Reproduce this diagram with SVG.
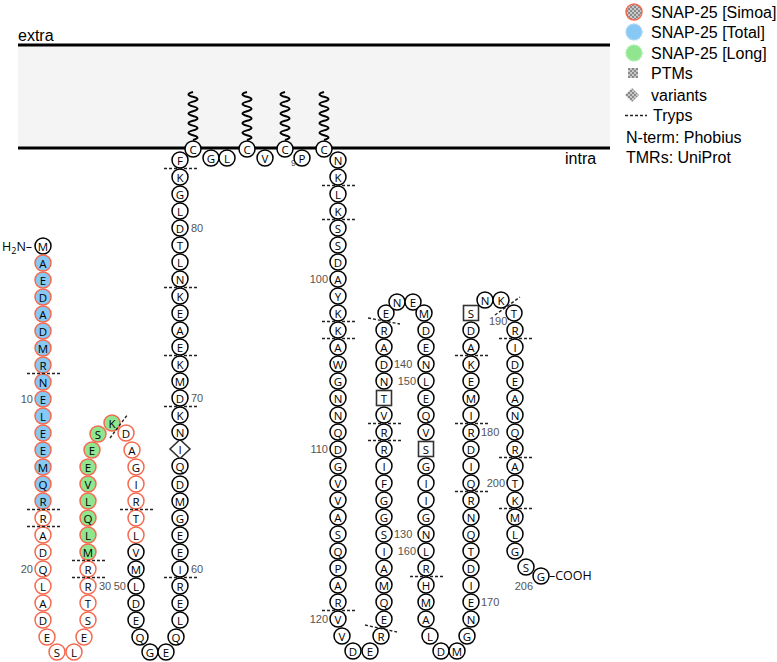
<svg xmlns="http://www.w3.org/2000/svg" width="777" height="662" viewBox="0 0 777 662">
<defs>
<pattern id="chk" width="4" height="4" patternUnits="userSpaceOnUse"><rect width="4" height="4" fill="#c8c8c8"/><rect width="2" height="2" fill="#8a8a8a"/><rect x="2" y="2" width="2" height="2" fill="#8a8a8a"/></pattern>
</defs>
<style>
circle{stroke-width:1.5}
.k{fill:#fff;stroke:#000}
.r{fill:#fff;stroke:#f36a50}
.rb{fill:#87c8f5;stroke:#f36a50}
.rg{fill:#8fe68f;stroke:#f36a50}
.sq{fill:#fff;stroke:#333;stroke-width:1.6}
text{font-family:"Open Sans","DejaVu Sans",sans-serif}
g.res text{font-size:11.5px;text-anchor:middle;dominant-baseline:central;fill:#000}
.num{font-family:"Liberation Sans",Arial,sans-serif;font-size:11px;fill:#555}
.lab{font-family:"Liberation Sans",Arial,sans-serif;font-size:16px;fill:#000}
.tr{stroke:#222;stroke-width:1.4;stroke-dasharray:3 2;fill:none}
.sqg{fill:none;stroke:#000;stroke-width:2}
.gs{opacity:0.995}
</style>
<g id="membrane" class="gs">
<rect x="18" y="45" width="592" height="103" fill="#f4f4f4"/>
<line x1="18" y1="45" x2="610" y2="45" stroke="#000" stroke-width="3"/>
<line x1="18" y1="148" x2="610" y2="148" stroke="#000" stroke-width="3"/>
<text class="lab" x="18" y="41">extra</text>
<text class="lab" x="565" y="164">intra</text>
</g>
<g id="palmitoyl">
<path class="sqg" d="M193,140 q9,-2.4 0,-4.8 t0,-4.8 t0,-4.8 t0,-4.8 t0,-4.8 t0,-4.8 t0,-4.8 t0,-4.8 t0,-4.8 t0,-4.8"/>
<path class="sqg" d="M247,140 q9,-2.4 0,-4.8 t0,-4.8 t0,-4.8 t0,-4.8 t0,-4.8 t0,-4.8 t0,-4.8 t0,-4.8 t0,-4.8 t0,-4.8"/>
<path class="sqg" d="M285,140 q9,-2.4 0,-4.8 t0,-4.8 t0,-4.8 t0,-4.8 t0,-4.8 t0,-4.8 t0,-4.8 t0,-4.8 t0,-4.8 t0,-4.8"/>
<path class="sqg" d="M324,140 q9,-2.4 0,-4.8 t0,-4.8 t0,-4.8 t0,-4.8 t0,-4.8 t0,-4.8 t0,-4.8 t0,-4.8 t0,-4.8 t0,-4.8"/>
</g>
<g id="numbers" class="gs">
<text class="num" x="33" y="403" text-anchor="end">10</text>
<text class="num" x="33" y="573" text-anchor="end">20</text>
<text class="num" x="99" y="590">30</text>
<text class="num" x="126" y="590" text-anchor="end">50</text>
<text class="num" x="191" y="573">60</text>
<text class="num" x="191" y="402">70</text>
<text class="num" x="191" y="232">80</text>
<text class="num" x="291" y="166" style="font-size:9px">90</text>
<text class="num" x="328" y="283" text-anchor="end">100</text>
<text class="num" x="328" y="453" text-anchor="end">110</text>
<text class="num" x="328" y="623" text-anchor="end">120</text>
<text class="num" x="394" y="538">130</text>
<text class="num" x="394" y="368">140</text>
<text class="num" x="416" y="385" text-anchor="end">150</text>
<text class="num" x="416" y="555" text-anchor="end">160</text>
<text class="num" x="481" y="606">170</text>
<text class="num" x="481" y="436">180</text>
<text class="num" x="489" y="325">190</text>
<text class="num" x="505" y="487" text-anchor="end">200</text>
<text class="num" x="533" y="590" text-anchor="end">206</text>
</g>
<g id="termini" class="gs">
<text x="2" y="251" font-family="Liberation Sans,Arial,sans-serif" font-size="12.5">H<tspan font-size="9" dy="3">2</tspan><tspan dy="-3">N–</tspan></text>
<text x="549" y="580" font-family="Liberation Sans,Arial,sans-serif" font-size="12.5">–COOH</text>
</g>
<g id="residues" class="res gs">
<g id="r1"><circle class="k" cx="43" cy="246" r="8"/><text x="43" y="246">M</text></g>
<g id="r2"><circle class="rb" cx="43" cy="263" r="8"/><text x="43" y="263">A</text></g>
<g id="r3"><circle class="rb" cx="43" cy="280" r="8"/><text x="43" y="280">E</text></g>
<g id="r4"><circle class="rb" cx="43" cy="297" r="8"/><text x="43" y="297">D</text></g>
<g id="r5"><circle class="rb" cx="43" cy="314" r="8"/><text x="43" y="314">A</text></g>
<g id="r6"><circle class="rb" cx="43" cy="331" r="8"/><text x="43" y="331">D</text></g>
<g id="r7"><circle class="rb" cx="43" cy="348" r="8"/><text x="43" y="348">M</text></g>
<g id="r8"><circle class="rb" cx="43" cy="365" r="8"/><text x="43" y="365">R</text></g>
<g id="r9"><circle class="rb" cx="43" cy="382" r="8"/><text x="43" y="382">N</text></g>
<g id="r10"><circle class="rb" cx="43" cy="399" r="8"/><text x="43" y="399">E</text></g>
<g id="r11"><circle class="rb" cx="43" cy="416" r="8"/><text x="43" y="416">L</text></g>
<g id="r12"><circle class="rb" cx="43" cy="433" r="8"/><text x="43" y="433">E</text></g>
<g id="r13"><circle class="rb" cx="43" cy="450" r="8"/><text x="43" y="450">E</text></g>
<g id="r14"><circle class="rb" cx="43" cy="467" r="8"/><text x="43" y="467">M</text></g>
<g id="r15"><circle class="rb" cx="43" cy="484" r="8"/><text x="43" y="484">Q</text></g>
<g id="r16"><circle class="rb" cx="43" cy="501" r="8"/><text x="43" y="501">R</text></g>
<g id="r17"><circle class="r" cx="43" cy="518" r="8"/><text x="43" y="518">R</text></g>
<g id="r18"><circle class="r" cx="43" cy="535" r="8"/><text x="43" y="535">A</text></g>
<g id="r19"><circle class="r" cx="43" cy="552" r="8"/><text x="43" y="552">D</text></g>
<g id="r20"><circle class="r" cx="43" cy="569" r="8"/><text x="43" y="569">Q</text></g>
<g id="r21"><circle class="r" cx="43" cy="586" r="8"/><text x="43" y="586">L</text></g>
<g id="r22"><circle class="r" cx="43" cy="603" r="8"/><text x="43" y="603">A</text></g>
<g id="r23"><circle class="r" cx="43" cy="620" r="8"/><text x="43" y="620">D</text></g>
<g id="r24"><circle class="r" cx="47" cy="637" r="8"/><text x="47" y="637">E</text></g>
<g id="r25"><circle class="r" cx="57" cy="652" r="8"/><text x="57" y="652">S</text></g>
<g id="r26"><circle class="r" cx="74" cy="652" r="8"/><text x="74" y="652">L</text></g>
<g id="r27"><circle class="r" cx="84" cy="637" r="8"/><text x="84" y="637">E</text></g>
<g id="r28"><circle class="r" cx="88" cy="620" r="8"/><text x="88" y="620">S</text></g>
<g id="r29"><circle class="r" cx="88" cy="603" r="8"/><text x="88" y="603">T</text></g>
<g id="r30"><circle class="r" cx="88" cy="586" r="8"/><text x="88" y="586">R</text></g>
<g id="r31"><circle class="r" cx="88" cy="569" r="8"/><text x="88" y="569">R</text></g>
<g id="r32"><circle class="rg" cx="88" cy="552" r="8"/><text x="88" y="552">M</text></g>
<g id="r33"><circle class="rg" cx="88" cy="535" r="8"/><text x="88" y="535">L</text></g>
<g id="r34"><circle class="rg" cx="88" cy="518" r="8"/><text x="88" y="518">Q</text></g>
<g id="r35"><circle class="rg" cx="88" cy="501" r="8"/><text x="88" y="501">L</text></g>
<g id="r36"><circle class="rg" cx="88" cy="484" r="8"/><text x="88" y="484">V</text></g>
<g id="r37"><circle class="rg" cx="88" cy="467" r="8"/><text x="88" y="467">E</text></g>
<g id="r38"><circle class="rg" cx="92" cy="450" r="8"/><text x="92" y="450">E</text></g>
<g id="r39"><circle class="rg" cx="98" cy="434" r="8"/><text x="98" y="434">S</text></g>
<g id="r40"><circle class="rg" cx="112" cy="423" r="8"/><text x="112" y="423">K</text></g>
<g id="r41"><circle class="r" cx="126" cy="433" r="8"/><text x="126" y="433">D</text></g>
<g id="r42"><circle class="r" cx="132" cy="450" r="8"/><text x="132" y="450">A</text></g>
<g id="r43"><circle class="r" cx="136" cy="467" r="8"/><text x="136" y="467">G</text></g>
<g id="r44"><circle class="r" cx="136" cy="484" r="8"/><text x="136" y="484">I</text></g>
<g id="r45"><circle class="r" cx="136" cy="501" r="8"/><text x="136" y="501">R</text></g>
<g id="r46"><circle class="r" cx="136" cy="518" r="8"/><text x="136" y="518">T</text></g>
<g id="r47"><circle class="r" cx="136" cy="535" r="8"/><text x="136" y="535">L</text></g>
<g id="r48"><circle class="k" cx="136" cy="552" r="8"/><text x="136" y="552">V</text></g>
<g id="r49"><circle class="k" cx="136" cy="569" r="8"/><text x="136" y="569">M</text></g>
<g id="r50"><circle class="k" cx="136" cy="586" r="8"/><text x="136" y="586">L</text></g>
<g id="r51"><circle class="k" cx="136" cy="603" r="8"/><text x="136" y="603">D</text></g>
<g id="r52"><circle class="k" cx="136" cy="620" r="8"/><text x="136" y="620">E</text></g>
<g id="r53"><circle class="k" cx="140" cy="637" r="8"/><text x="140" y="637">Q</text></g>
<g id="r54"><circle class="k" cx="150" cy="652" r="8"/><text x="150" y="652">G</text></g>
<g id="r55"><circle class="k" cx="166" cy="652" r="8"/><text x="166" y="652">E</text></g>
<g id="r56"><circle class="k" cx="176" cy="637" r="8"/><text x="176" y="637">Q</text></g>
<g id="r57"><circle class="k" cx="180" cy="620" r="8"/><text x="180" y="620">L</text></g>
<g id="r58"><circle class="k" cx="180" cy="603" r="8"/><text x="180" y="603">E</text></g>
<g id="r59"><circle class="k" cx="180" cy="586" r="8"/><text x="180" y="586">R</text></g>
<g id="r60"><circle class="k" cx="180" cy="569" r="8"/><text x="180" y="569">I</text></g>
<g id="r61"><circle class="k" cx="180" cy="552" r="8"/><text x="180" y="552">E</text></g>
<g id="r62"><circle class="k" cx="180" cy="535" r="8"/><text x="180" y="535">E</text></g>
<g id="r63"><circle class="k" cx="180" cy="518" r="8"/><text x="180" y="518">G</text></g>
<g id="r64"><circle class="k" cx="180" cy="501" r="8"/><text x="180" y="501">M</text></g>
<g id="r65"><circle class="k" cx="180" cy="484" r="8"/><text x="180" y="484">D</text></g>
<g id="r66"><circle class="k" cx="180" cy="466" r="8"/><text x="180" y="466">Q</text></g>
<g id="r67"><polygon class="sq" points="180,439.5 190,449 180,458.5 170,449"/><text x="180" y="449">I</text></g>
<g id="r68"><circle class="k" cx="180" cy="432" r="8"/><text x="180" y="432">N</text></g>
<g id="r69"><circle class="k" cx="180" cy="415" r="8"/><text x="180" y="415">K</text></g>
<g id="r70"><circle class="k" cx="180" cy="398" r="8"/><text x="180" y="398">D</text></g>
<g id="r71"><circle class="k" cx="180" cy="381" r="8"/><text x="180" y="381">M</text></g>
<g id="r72"><circle class="k" cx="180" cy="364" r="8"/><text x="180" y="364">K</text></g>
<g id="r73"><circle class="k" cx="180" cy="347" r="8"/><text x="180" y="347">E</text></g>
<g id="r74"><circle class="k" cx="180" cy="330" r="8"/><text x="180" y="330">A</text></g>
<g id="r75"><circle class="k" cx="180" cy="313" r="8"/><text x="180" y="313">E</text></g>
<g id="r76"><circle class="k" cx="180" cy="296" r="8"/><text x="180" y="296">K</text></g>
<g id="r77"><circle class="k" cx="180" cy="279" r="8"/><text x="180" y="279">N</text></g>
<g id="r78"><circle class="k" cx="180" cy="262" r="8"/><text x="180" y="262">L</text></g>
<g id="r79"><circle class="k" cx="180" cy="245" r="8"/><text x="180" y="245">T</text></g>
<g id="r80"><circle class="k" cx="180" cy="228" r="8"/><text x="180" y="228">D</text></g>
<g id="r81"><circle class="k" cx="180" cy="211" r="8"/><text x="180" y="211">L</text></g>
<g id="r82"><circle class="k" cx="180" cy="194" r="8"/><text x="180" y="194">G</text></g>
<g id="r83"><circle class="k" cx="180" cy="177" r="8"/><text x="180" y="177">K</text></g>
<g id="r84"><circle class="k" cx="180" cy="160" r="8"/><text x="180" y="160">F</text></g>
<g id="r85"><circle class="k" cx="193" cy="149" r="8"/><text x="193" y="149">C</text></g>
<g id="r86"><circle class="k" cx="211" cy="158" r="8"/><text x="211" y="158">G</text></g>
<g id="r87"><circle class="k" cx="227" cy="158" r="8"/><text x="227" y="158">L</text></g>
<g id="r88"><circle class="k" cx="247" cy="149" r="8"/><text x="247" y="149">C</text></g>
<g id="r89"><circle class="k" cx="265" cy="158" r="8"/><text x="265" y="158">V</text></g>
<g id="r90"><circle class="k" cx="285" cy="149" r="8"/><text x="285" y="149">C</text></g>
<g id="r91"><circle class="k" cx="302" cy="158" r="8"/><text x="302" y="158">P</text></g>
<g id="r92"><circle class="k" cx="324" cy="149" r="8"/><text x="324" y="149">C</text></g>
<g id="r93"><circle class="k" cx="338" cy="160" r="8"/><text x="338" y="160">N</text></g>
<g id="r94"><circle class="k" cx="338" cy="177" r="8"/><text x="338" y="177">K</text></g>
<g id="r95"><circle class="k" cx="338" cy="194" r="8"/><text x="338" y="194">L</text></g>
<g id="r96"><circle class="k" cx="338" cy="211" r="8"/><text x="338" y="211">K</text></g>
<g id="r97"><circle class="k" cx="338" cy="228" r="8"/><text x="338" y="228">S</text></g>
<g id="r98"><circle class="k" cx="338" cy="245" r="8"/><text x="338" y="245">S</text></g>
<g id="r99"><circle class="k" cx="338" cy="262" r="8"/><text x="338" y="262">D</text></g>
<g id="r100"><circle class="k" cx="338" cy="279" r="8"/><text x="338" y="279">A</text></g>
<g id="r101"><circle class="k" cx="338" cy="296" r="8"/><text x="338" y="296">Y</text></g>
<g id="r102"><circle class="k" cx="338" cy="313" r="8"/><text x="338" y="313">K</text></g>
<g id="r103"><circle class="k" cx="338" cy="330" r="8"/><text x="338" y="330">K</text></g>
<g id="r104"><circle class="k" cx="338" cy="347" r="8"/><text x="338" y="347">A</text></g>
<g id="r105"><circle class="k" cx="338" cy="364" r="8"/><text x="338" y="364">W</text></g>
<g id="r106"><circle class="k" cx="338" cy="381" r="8"/><text x="338" y="381">G</text></g>
<g id="r107"><circle class="k" cx="338" cy="398" r="8"/><text x="338" y="398">N</text></g>
<g id="r108"><circle class="k" cx="338" cy="415" r="8"/><text x="338" y="415">N</text></g>
<g id="r109"><circle class="k" cx="338" cy="432" r="8"/><text x="338" y="432">Q</text></g>
<g id="r110"><circle class="k" cx="338" cy="449" r="8"/><text x="338" y="449">D</text></g>
<g id="r111"><circle class="k" cx="338" cy="466" r="8"/><text x="338" y="466">G</text></g>
<g id="r112"><circle class="k" cx="338" cy="483" r="8"/><text x="338" y="483">V</text></g>
<g id="r113"><circle class="k" cx="338" cy="500" r="8"/><text x="338" y="500">V</text></g>
<g id="r114"><circle class="k" cx="338" cy="517" r="8"/><text x="338" y="517">A</text></g>
<g id="r115"><circle class="k" cx="338" cy="534" r="8"/><text x="338" y="534">S</text></g>
<g id="r116"><circle class="k" cx="338" cy="551" r="8"/><text x="338" y="551">Q</text></g>
<g id="r117"><circle class="k" cx="338" cy="568" r="8"/><text x="338" y="568">P</text></g>
<g id="r118"><circle class="k" cx="338" cy="585" r="8"/><text x="338" y="585">A</text></g>
<g id="r119"><circle class="k" cx="338" cy="602" r="8"/><text x="338" y="602">R</text></g>
<g id="r120"><circle class="k" cx="338" cy="619" r="8"/><text x="338" y="619">V</text></g>
<g id="r121"><circle class="k" cx="342" cy="636" r="8"/><text x="342" y="636">V</text></g>
<g id="r122"><circle class="k" cx="353" cy="651" r="8"/><text x="353" y="651">D</text></g>
<g id="r123"><circle class="k" cx="370" cy="651" r="8"/><text x="370" y="651">E</text></g>
<g id="r124"><circle class="k" cx="381" cy="636" r="8"/><text x="381" y="636">R</text></g>
<g id="r125"><circle class="k" cx="384" cy="619" r="8"/><text x="384" y="619">E</text></g>
<g id="r126"><circle class="k" cx="384" cy="602" r="8"/><text x="384" y="602">Q</text></g>
<g id="r127"><circle class="k" cx="384" cy="585" r="8"/><text x="384" y="585">M</text></g>
<g id="r128"><circle class="k" cx="384" cy="568" r="8"/><text x="384" y="568">A</text></g>
<g id="r129"><circle class="k" cx="384" cy="551" r="8"/><text x="384" y="551">I</text></g>
<g id="r130"><circle class="k" cx="384" cy="534" r="8"/><text x="384" y="534">S</text></g>
<g id="r131"><circle class="k" cx="384" cy="517" r="8"/><text x="384" y="517">G</text></g>
<g id="r132"><circle class="k" cx="384" cy="500" r="8"/><text x="384" y="500">G</text></g>
<g id="r133"><circle class="k" cx="384" cy="483" r="8"/><text x="384" y="483">F</text></g>
<g id="r134"><circle class="k" cx="384" cy="466" r="8"/><text x="384" y="466">I</text></g>
<g id="r135"><circle class="k" cx="384" cy="449" r="8"/><text x="384" y="449">R</text></g>
<g id="r136"><circle class="k" cx="384" cy="432" r="8"/><text x="384" y="432">R</text></g>
<g id="r137"><circle class="k" cx="384" cy="415" r="8"/><text x="384" y="415">V</text></g>
<g id="r138"><rect class="sq" x="376.5" y="390.5" width="15" height="15"/><text x="384" y="398">T</text></g>
<g id="r139"><circle class="k" cx="384" cy="381" r="8"/><text x="384" y="381">N</text></g>
<g id="r140"><circle class="k" cx="384" cy="364" r="8"/><text x="384" y="364">D</text></g>
<g id="r141"><circle class="k" cx="384" cy="347" r="8"/><text x="384" y="347">A</text></g>
<g id="r142"><circle class="k" cx="384" cy="330" r="8"/><text x="384" y="330">R</text></g>
<g id="r143"><circle class="k" cx="386" cy="313" r="8"/><text x="386" y="313">E</text></g>
<g id="r144"><circle class="k" cx="397" cy="302" r="8"/><text x="397" y="302">N</text></g>
<g id="r145"><circle class="k" cx="413" cy="302" r="8"/><text x="413" y="302">E</text></g>
<g id="r146"><circle class="k" cx="424" cy="313" r="8"/><text x="424" y="313">M</text></g>
<g id="r147"><circle class="k" cx="426" cy="330" r="8"/><text x="426" y="330">D</text></g>
<g id="r148"><circle class="k" cx="426" cy="347" r="8"/><text x="426" y="347">E</text></g>
<g id="r149"><circle class="k" cx="426" cy="364" r="8"/><text x="426" y="364">N</text></g>
<g id="r150"><circle class="k" cx="426" cy="381" r="8"/><text x="426" y="381">L</text></g>
<g id="r151"><circle class="k" cx="426" cy="398" r="8"/><text x="426" y="398">E</text></g>
<g id="r152"><circle class="k" cx="426" cy="415" r="8"/><text x="426" y="415">Q</text></g>
<g id="r153"><circle class="k" cx="426" cy="432" r="8"/><text x="426" y="432">V</text></g>
<g id="r154"><rect class="sq" x="418.5" y="441.5" width="15" height="15"/><text x="426" y="449">S</text></g>
<g id="r155"><circle class="k" cx="426" cy="466" r="8"/><text x="426" y="466">G</text></g>
<g id="r156"><circle class="k" cx="426" cy="483" r="8"/><text x="426" y="483">I</text></g>
<g id="r157"><circle class="k" cx="426" cy="500" r="8"/><text x="426" y="500">I</text></g>
<g id="r158"><circle class="k" cx="426" cy="517" r="8"/><text x="426" y="517">G</text></g>
<g id="r159"><circle class="k" cx="426" cy="534" r="8"/><text x="426" y="534">N</text></g>
<g id="r160"><circle class="k" cx="426" cy="551" r="8"/><text x="426" y="551">L</text></g>
<g id="r161"><circle class="k" cx="426" cy="568" r="8"/><text x="426" y="568">R</text></g>
<g id="r162"><circle class="k" cx="426" cy="585" r="8"/><text x="426" y="585">H</text></g>
<g id="r163"><circle class="k" cx="426" cy="602" r="8"/><text x="426" y="602">M</text></g>
<g id="r164"><circle class="k" cx="426" cy="619" r="8"/><text x="426" y="619">A</text></g>
<g id="r165"><circle class="k" cx="430" cy="636" r="8"/><text x="430" y="636">L</text></g>
<g id="r166"><circle class="k" cx="441" cy="651" r="8"/><text x="441" y="651">D</text></g>
<g id="r167"><circle class="k" cx="457" cy="651" r="8"/><text x="457" y="651">M</text></g>
<g id="r168"><circle class="k" cx="467" cy="636" r="8"/><text x="467" y="636">G</text></g>
<g id="r169"><circle class="k" cx="471" cy="619" r="8"/><text x="471" y="619">N</text></g>
<g id="r170"><circle class="k" cx="471" cy="602" r="8"/><text x="471" y="602">E</text></g>
<g id="r171"><circle class="k" cx="471" cy="585" r="8"/><text x="471" y="585">I</text></g>
<g id="r172"><circle class="k" cx="471" cy="568" r="8"/><text x="471" y="568">D</text></g>
<g id="r173"><circle class="k" cx="471" cy="551" r="8"/><text x="471" y="551">T</text></g>
<g id="r174"><circle class="k" cx="471" cy="534" r="8"/><text x="471" y="534">Q</text></g>
<g id="r175"><circle class="k" cx="471" cy="517" r="8"/><text x="471" y="517">N</text></g>
<g id="r176"><circle class="k" cx="471" cy="500" r="8"/><text x="471" y="500">R</text></g>
<g id="r177"><circle class="k" cx="471" cy="483" r="8"/><text x="471" y="483">Q</text></g>
<g id="r178"><circle class="k" cx="471" cy="466" r="8"/><text x="471" y="466">I</text></g>
<g id="r179"><circle class="k" cx="471" cy="449" r="8"/><text x="471" y="449">D</text></g>
<g id="r180"><circle class="k" cx="471" cy="432" r="8"/><text x="471" y="432">R</text></g>
<g id="r181"><circle class="k" cx="471" cy="415" r="8"/><text x="471" y="415">I</text></g>
<g id="r182"><circle class="k" cx="471" cy="398" r="8"/><text x="471" y="398">M</text></g>
<g id="r183"><circle class="k" cx="471" cy="381" r="8"/><text x="471" y="381">E</text></g>
<g id="r184"><circle class="k" cx="471" cy="364" r="8"/><text x="471" y="364">K</text></g>
<g id="r185"><circle class="k" cx="471" cy="347" r="8"/><text x="471" y="347">A</text></g>
<g id="r186"><circle class="k" cx="471" cy="330" r="8"/><text x="471" y="330">D</text></g>
<g id="r187"><rect class="sq" x="463.5" y="305.5" width="15" height="15"/><text x="471" y="313">S</text></g>
<g id="r188"><circle class="k" cx="485" cy="300" r="8"/><text x="485" y="300">N</text></g>
<g id="r189"><circle class="k" cx="501" cy="300" r="8"/><text x="501" y="300">K</text></g>
<g id="r190"><circle class="k" cx="514" cy="313" r="8"/><text x="514" y="313">T</text></g>
<g id="r191"><circle class="k" cx="515" cy="330" r="8"/><text x="515" y="330">R</text></g>
<g id="r192"><circle class="k" cx="515" cy="347" r="8"/><text x="515" y="347">I</text></g>
<g id="r193"><circle class="k" cx="515" cy="364" r="8"/><text x="515" y="364">D</text></g>
<g id="r194"><circle class="k" cx="515" cy="381" r="8"/><text x="515" y="381">E</text></g>
<g id="r195"><circle class="k" cx="515" cy="398" r="8"/><text x="515" y="398">A</text></g>
<g id="r196"><circle class="k" cx="515" cy="415" r="8"/><text x="515" y="415">N</text></g>
<g id="r197"><circle class="k" cx="515" cy="432" r="8"/><text x="515" y="432">Q</text></g>
<g id="r198"><circle class="k" cx="515" cy="449" r="8"/><text x="515" y="449">R</text></g>
<g id="r199"><circle class="k" cx="515" cy="466" r="8"/><text x="515" y="466">A</text></g>
<g id="r200"><circle class="k" cx="515" cy="483" r="8"/><text x="515" y="483">T</text></g>
<g id="r201"><circle class="k" cx="515" cy="500" r="8"/><text x="515" y="500">K</text></g>
<g id="r202"><circle class="k" cx="515" cy="517" r="8"/><text x="515" y="517">M</text></g>
<g id="r203"><circle class="k" cx="515" cy="534" r="8"/><text x="515" y="534">L</text></g>
<g id="r204"><circle class="k" cx="515" cy="551" r="8"/><text x="515" y="551">G</text></g>
<g id="r205"><circle class="k" cx="526" cy="567" r="8"/><text x="526" y="567">S</text></g>
<g id="r206"><circle class="k" cx="541" cy="576" r="8"/><text x="541" y="576">G</text></g>
</g>
<g id="tryps">
<line class="tr" x1="27" y1="373.5" x2="60" y2="373.5"/>
<line class="tr" x1="27" y1="509.5" x2="60" y2="509.5"/>
<line class="tr" x1="27" y1="526.5" x2="60" y2="526.5"/>
<line class="tr" x1="72" y1="560.5" x2="105" y2="560.5"/>
<line class="tr" x1="72" y1="577.5" x2="105" y2="577.5"/>
<line class="tr" x1="110" y1="438" x2="128" y2="414"/>
<line class="tr" x1="120" y1="509.5" x2="153" y2="509.5"/>
<line class="tr" x1="164" y1="577.5" x2="197" y2="577.5"/>
<line class="tr" x1="164" y1="406.5" x2="197" y2="406.5"/>
<line class="tr" x1="164" y1="355.5" x2="197" y2="355.5"/>
<line class="tr" x1="164" y1="287.5" x2="197" y2="287.5"/>
<line class="tr" x1="164" y1="168.5" x2="197" y2="168.5"/>
<line class="tr" x1="322" y1="185.5" x2="355" y2="185.5"/>
<line class="tr" x1="322" y1="219.5" x2="355" y2="219.5"/>
<line class="tr" x1="322" y1="321.5" x2="355" y2="321.5"/>
<line class="tr" x1="322" y1="338.5" x2="355" y2="338.5"/>
<line class="tr" x1="322" y1="610.5" x2="355" y2="610.5"/>
<line class="tr" x1="365" y1="625" x2="397" y2="632"/>
<line class="tr" x1="368" y1="423.5" x2="401" y2="423.5"/>
<line class="tr" x1="368" y1="440.5" x2="401" y2="440.5"/>
<line class="tr" x1="368" y1="318" x2="400" y2="324"/>
<line class="tr" x1="410" y1="576.5" x2="443" y2="576.5"/>
<line class="tr" x1="455" y1="491.5" x2="488" y2="491.5"/>
<line class="tr" x1="455" y1="423.5" x2="488" y2="423.5"/>
<line class="tr" x1="455" y1="355.5" x2="488" y2="355.5"/>
<line class="tr" x1="495" y1="315" x2="520" y2="297"/>
<line class="tr" x1="499" y1="338.5" x2="532" y2="338.5"/>
<line class="tr" x1="499" y1="457.5" x2="532" y2="457.5"/>
<line class="tr" x1="499" y1="508.5" x2="532" y2="508.5"/>
</g>
<g id="legend" class="gs">
<circle cx="634" cy="12" r="8" fill="url(#chk)" stroke="#f36a50" stroke-width="1.5"/>
<text class="lab" x="651" y="17.5">SNAP-25 [Simoa]</text>
<circle cx="634" cy="32" r="8" fill="#87c8f5" stroke="#a9d6f7" stroke-width="1.2" stroke-dasharray="2 1"/>
<text class="lab" x="651" y="38">SNAP-25 [Total]</text>
<circle cx="634" cy="53" r="8" fill="#8fe68f" stroke="#b0eeb0" stroke-width="1.2" stroke-dasharray="2 1"/>
<text class="lab" x="651" y="58.5">SNAP-25 [Long]</text>
<rect x="628" y="68" width="10" height="10" fill="url(#chk)"/>
<text class="lab" x="651" y="79">PTMs</text>
<polygon points="632,88 639,95 632,102 625,95" fill="url(#chk)"/>
<text class="lab" x="651" y="100.5">variants</text>
<line class="tr" x1="625" y1="115.5" x2="647" y2="115.5" stroke-dasharray="2 1.5"/>
<text class="lab" x="653" y="121">Tryps</text>
<text class="lab" x="626" y="142.5">N-term: Phobius</text>
<text class="lab" x="626" y="163">TMRs: UniProt</text>
</g>
</svg>
